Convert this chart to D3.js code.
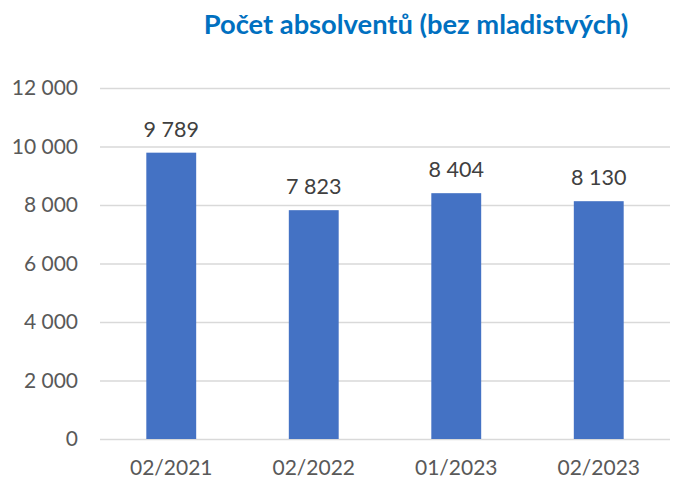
<!DOCTYPE html>
<html>
<head>
<meta charset="utf-8">
<script src="https://cdn.jsdelivr.net/npm/d3@7"></script>
<style>
  body { margin: 0; background: #fff; }
  svg text { font-family: Lato, "Open Sans", sans-serif; }
</style>
</head>
<body>
<div id="chart"></div>
<script>
// data
var categories = ['02/2021', '02/2022', '01/2023', '02/2023'];
var values = [9789, 7823, 8404, 8130];
var yTicks = [0, 2000, 4000, 6000, 8000, 10000, 12000];
var title = 'Počet absolventů (bez mladistvých)';

var W = 673, H = 479;
var margin = { top: 88, right: 3, bottom: 40, left: 100 };

var fmt = function(v) {
  return d3.format(',')(v).replace(/,/g, '\u00a0');
};

var svg = d3.select('#chart').append('svg')
  .attr('width', W)
  .attr('height', H);

var x = d3.scaleBand()
  .domain(categories)
  .range([margin.left, W - margin.right])
  .paddingInner(0.65)
  .paddingOuter(0.325);

var y = d3.scaleLinear()
  .domain([0, 12000])
  .range([H - margin.bottom, margin.top]);

// title
svg.append('text')
  .attr('x', 416)
  .attr('y', 34)
  .attr('text-anchor', 'middle')
  .attr('fill', '#0070c0')
  .attr('font-weight', 'bold')
  .attr('font-size', 27.3)
  .text(title);

// gridlines + y labels
var yAxis = d3.axisLeft(y)
  .tickValues(yTicks)
  .tickSize(-(W - margin.right - margin.left))
  .tickPadding(22)
  .tickFormat(fmt);

var gy = svg.append('g')
  .attr('transform', 'translate(' + margin.left + ',0)')
  .call(yAxis);
gy.select('.domain').remove();
gy.selectAll('.tick line').attr('stroke', '#d9d9d9').attr('stroke-width', 1.3);
gy.selectAll('.tick text').attr('fill', '#595959').attr('font-size', 21);

// bars
svg.selectAll('rect.bar')
  .data(values)
  .enter()
  .append('rect')
  .attr('class', 'bar')
  .attr('x', function(d, i) { return x(categories[i]); })
  .attr('y', function(d) { return y(d); })
  .attr('width', x.bandwidth())
  .attr('height', function(d) { return y(0) - y(d); })
  .attr('fill', '#4472c4');

// value labels
svg.selectAll('text.val')
  .data(values)
  .enter()
  .append('text')
  .attr('class', 'val')
  .attr('x', function(d, i) { return x(categories[i]) + x.bandwidth() / 2; })
  .attr('y', function(d) { return y(d) - 16; })
  .attr('text-anchor', 'middle')
  .attr('fill', '#404040')
  .attr('font-size', 21.5)
  .text(fmt);

// x labels
var gx = svg.append('g')
  .attr('transform', 'translate(0,' + y(0) + ')')
  .call(d3.axisBottom(x).tickSize(0));
gx.select('.domain').remove();
gx.selectAll('.tick text')
  .attr('y', 36)
  .attr('dy', 0)
  .attr('fill', '#595959')
  .attr('font-size', 21);
</script>
</body>
</html>
